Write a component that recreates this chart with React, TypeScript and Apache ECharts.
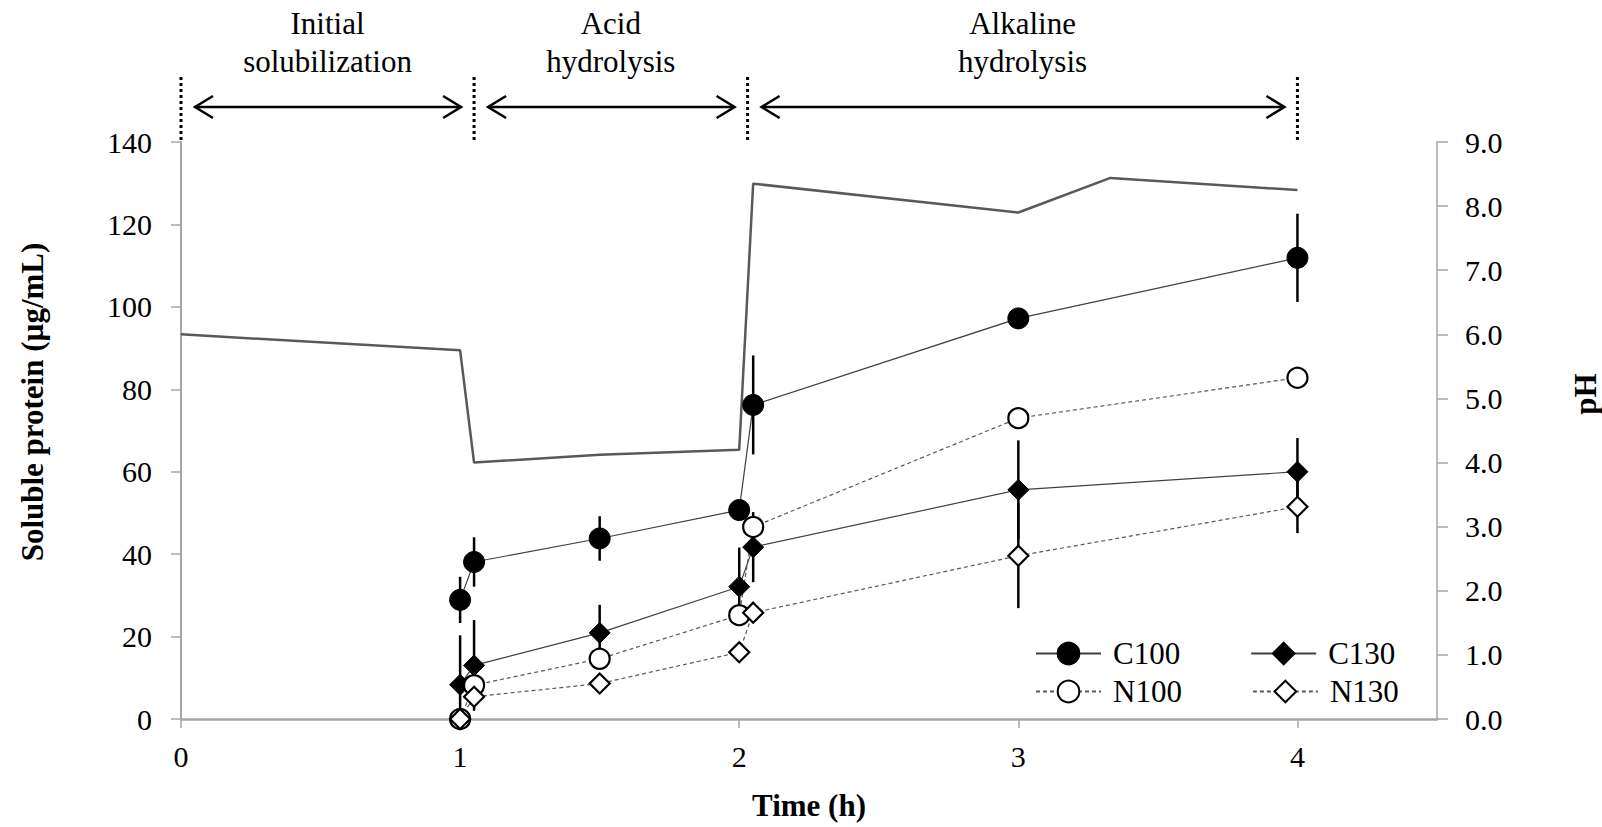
import { useEffect, useRef } from 'react';
import * as echarts from 'echarts';

// ---- data ----
const timePoints = [1.0, 1.05, 1.5, 2.0, 2.05, 3.0, 4.0];
const c100 = [28.9, 38.1, 43.8, 50.7, 76.2, 97.2, 111.9];
const c100Err = [5.6, 6.0, 5.4, 0, 12.0, 0, 10.7];
const c130 = [8.3, 13.0, 20.9, 32.1, 41.7, 55.6, 60.0];
const c130Err = [12.0, 11.0, 6.8, 9.5, 8.5, 12.0, 8.2];
const n100 = [0, 8.2, 14.6, 25.2, 46.6, 73.0, 82.8];
const n100Err = [0, 0, 0, 0, 0, 0, 0];
const n130 = [0, 5.4, 8.6, 16.2, 25.8, 39.6, 51.5];
const n130Err = [0, 2.0, 0, 0, 0, 12.7, 6.4];

const phTime = [0, 1.0, 1.05, 1.5, 2.0, 2.05, 3.0, 3.33, 4.0];
const phValues = [6.0, 5.75, 4.0, 4.12, 4.2, 8.35, 7.9, 8.44, 8.25];

const phaseBounds = [0, 1.05, 2.03, 4.0];
const phaseLabels = ['Initial\nsolubilization', 'Acid\nhydrolysis', 'Alkaline\nhydrolysis'];

const xTitle = 'Time (h)';
const yTitle = 'Soluble protein (µg/mL)';
const y2Title = 'pH';

const FONT = '"Liberation Serif", "Times New Roman", serif';

function pairs(xs: number[], ys: number[]) {
  return xs.map((x, i) => [x, ys[i]]);
}

function errSeries(vals: number[], errs: number[]) {
  const data = timePoints
    .map((t, i) => [t, Math.max(0, vals[i] - errs[i]), vals[i] + errs[i], errs[i]])
    .filter((d) => d[3] > 0);
  return {
    type: 'custom',
    silent: true,
    z: 3,
    data,
    encode: { x: 0, y: [1, 2] },
    renderItem: (_params: any, api: any) => {
      const p1 = api.coord([api.value(0), api.value(1)]);
      const p2 = api.coord([api.value(0), api.value(2)]);
      return {
        type: 'line',
        shape: { x1: p1[0], y1: p1[1], x2: p2[0], y2: p2[1] },
        style: { stroke: '#000', lineWidth: 2.5 },
      };
    },
  };
}

export default function App() {
  const ref = useRef<HTMLDivElement>(null);

  useEffect(() => {
    if (!ref.current) return;
    const chart = echarts.init(ref.current, null, { renderer: 'svg' });

    const axisLabelStyle = { fontFamily: FONT, fontSize: 30, color: '#000' };

    const option: any = {
      animation: false,
      backgroundColor: '#fff',
      grid: { left: 181, right: 165, top: 142, bottom: 108, containLabel: false },
      xAxis: {
        type: 'value',
        min: 0,
        max: 4.5,
        interval: 1,
        axisLine: { show: true, lineStyle: { color: '#a6a6a6', width: 2.5 } },
        axisTick: { show: true, length: 9, lineStyle: { color: '#a6a6a6', width: 1.5 } },
        axisLabel: { ...axisLabelStyle, margin: 22, showMaxLabel: false },
        splitLine: { show: false },
      },
      yAxis: [
        {
          type: 'value',
          min: 0,
          max: 140,
          interval: 20,
          axisLine: { show: true, lineStyle: { color: '#a6a6a6', width: 2 } },
          axisTick: { show: true, length: 10, lineStyle: { color: '#a6a6a6', width: 1.5 } },
          axisLabel: { ...axisLabelStyle, margin: 29 },
          splitLine: { show: false },
        },
        {
          type: 'value',
          min: 0,
          max: 9,
          interval: 1,
          position: 'right',
          axisLine: { show: true, lineStyle: { color: '#a6a6a6', width: 1.5 } },
          axisTick: { show: true, length: 11, lineStyle: { color: '#a6a6a6', width: 1.5 } },
          axisLabel: { ...axisLabelStyle, margin: 28, formatter: (v: number) => v.toFixed(1) },
          splitLine: { show: false },
        },
      ],
      legend: [
        {
          data: ['C100', 'C130'],
          left: 1030,
          top: 633,
          itemWidth: 65,
          itemHeight: 27,
          itemGap: 70,
          textStyle: { fontFamily: FONT, fontSize: 31, color: '#000', padding: [0, 0, 0, 7] },
        },
        {
          data: ['N100', 'N130'],
          left: 1030,
          top: 671,
          itemWidth: 65,
          itemHeight: 27,
          itemGap: 70,
          textStyle: { fontFamily: FONT, fontSize: 31, color: '#000', padding: [0, 0, 0, 7] },
        },
      ],
      series: [
        {
          name: 'pH',
          type: 'line',
          yAxisIndex: 1,
          data: pairs(phTime, phValues),
          showSymbol: false,
          symbol: 'none',
          lineStyle: { color: '#595959', width: 2.5 },
          itemStyle: { color: '#595959' },
          z: 1,
        },
        errSeries(c100, c100Err),
        errSeries(c130, c130Err),
        errSeries(n100, n100Err),
        errSeries(n130, n130Err),
        {
          name: 'C100',
          type: 'line',
          data: pairs(timePoints, c100),
          symbol: 'circle',
          symbolSize: 21,
          lineStyle: { color: '#404040', width: 1.2 },
          itemStyle: { color: '#000', borderColor: '#000', borderWidth: 1 },
          z: 5,
        },
        {
          name: 'C130',
          type: 'line',
          data: pairs(timePoints, c130),
          symbol: 'diamond',
          symbolSize: 21,
          lineStyle: { color: '#404040', width: 1.2 },
          itemStyle: { color: '#000', borderColor: '#000', borderWidth: 1 },
          z: 5,
        },
        {
          name: 'N100',
          type: 'line',
          data: pairs(timePoints, n100),
          symbol: 'circle',
          symbolSize: 20,
          lineStyle: { color: '#595959', width: 1.2, type: [4, 3] },
          itemStyle: { color: '#fff', borderColor: '#000', borderWidth: 2.2 },
          z: 5,
        },
        {
          name: 'N130',
          type: 'line',
          data: pairs(timePoints, n130),
          symbol: 'diamond',
          symbolSize: 20,
          lineStyle: { color: '#595959', width: 1.2, type: [4, 3] },
          itemStyle: { color: '#fff', borderColor: '#000', borderWidth: 2.2 },
          z: 5,
        },
      ],
    };

    chart.setOption(option);

    const px = (v: number) => chart.convertToPixel({ xAxisIndex: 0 }, v) as number;
    const graphics: any[] = [];
    const boundsPx = phaseBounds.map(px);

    boundsPx.forEach((x) => {
      graphics.push({
        type: 'line',
        shape: { x1: x, y1: 77, x2: x, y2: 141 },
        style: { stroke: '#000', lineWidth: 3, lineDash: [3, 3] },
        z: 10,
      });
    });

    const arrowY = 107;
    const head = 18;
    const half = 11;
    for (let i = 0; i < boundsPx.length - 1; i++) {
      const a = boundsPx[i] + 14;
      const b = boundsPx[i + 1] - 13;
      graphics.push({
        type: 'line',
        shape: { x1: a, y1: arrowY, x2: b, y2: arrowY },
        style: { stroke: '#000', lineWidth: 2.5 },
        z: 10,
      });
      graphics.push({
        type: 'polyline',
        shape: { points: [[a + head, arrowY - half], [a, arrowY], [a + head, arrowY + half]] },
        style: { stroke: '#000', lineWidth: 2.5, fill: null },
        z: 10,
      });
      graphics.push({
        type: 'polyline',
        shape: { points: [[b - head, arrowY - half], [b, arrowY], [b - head, arrowY + half]] },
        style: { stroke: '#000', lineWidth: 2.5, fill: null },
        z: 10,
      });
      graphics.push({
        type: 'text',
        x: (boundsPx[i] + boundsPx[i + 1]) / 2,
        y: 42,
        style: {
          text: phaseLabels[i],
          font: `31px ${FONT}`,
          fill: '#000',
          align: 'center',
          verticalAlign: 'middle',
          lineHeight: 38,
        },
        z: 10,
      });
    }

    graphics.push({
      type: 'text',
      x: 809,
      y: 805,
      style: { text: xTitle, font: `bold 31px ${FONT}`, fill: '#000', align: 'center', verticalAlign: 'middle' },
    });
    graphics.push({
      type: 'text',
      x: 32,
      y: 402,
      rotation: Math.PI / 2,
      style: { text: yTitle, font: `bold 31px ${FONT}`, fill: '#000', align: 'center', verticalAlign: 'middle' },
    });
    graphics.push({
      type: 'text',
      x: 1585,
      y: 394,
      rotation: Math.PI / 2,
      style: { text: y2Title, font: `bold 31px ${FONT}`, fill: '#000', align: 'center', verticalAlign: 'middle' },
    });

    chart.setOption({ graphic: graphics });

    return () => chart.dispose();
  }, []);

  return (
    <div
      ref={ref}
      style={{ position: 'absolute', left: 0, top: 0, width: 1602, height: 827, background: '#fff' }}
    />
  );
}
